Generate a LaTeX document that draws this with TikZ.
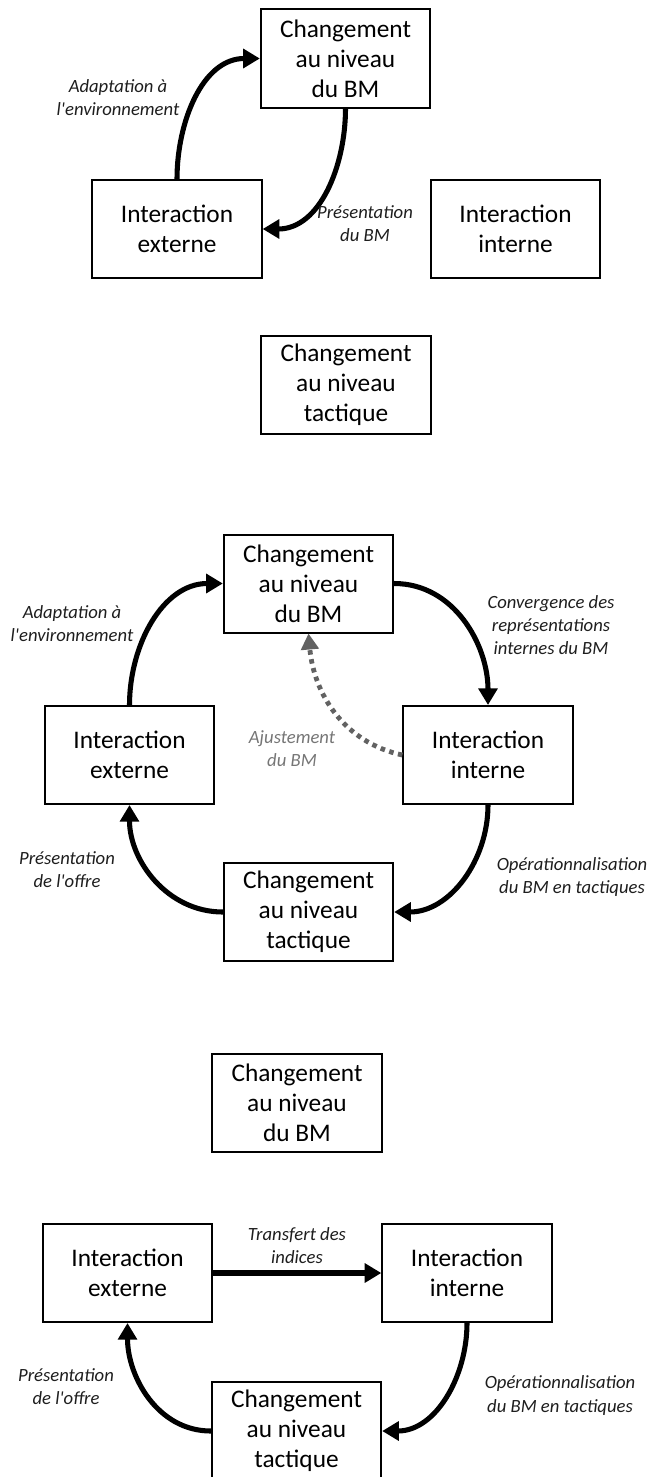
\documentclass[tikz,border=0pt]{standalone}
\usepackage{fontspec}
\setmainfont{Carlito}
\usetikzlibrary{arrows.meta}
\definecolor{adjgray}{RGB}{98,98,98}
\definecolor{adjtext}{RGB}{118,118,118}
\definecolor{lbltext}{RGB}{30,30,30}
\newcommand{\apos}{\textquotesingle}
\tikzset{
 box/.style={draw, line width=1.5pt, minimum width=127pt, minimum height=73.5pt, inner sep=0pt, align=center, font=\fontsize{19}{22.5}\selectfont},
 lbl/.style={align=center, inner sep=0pt, font=\fontsize{14}{17.3}\selectfont\itshape, text=lbltext},
 flow/.style={line width=3.8pt, -{Triangle[length=12.5pt,width=14pt]}},
 adj/.style={line width=3.6pt, dash pattern=on 3.4pt off 3.4pt, draw=adjgray, -{Triangle[length=12pt,width=13pt]}},
}
\begin{document}
\begin{tikzpicture}[x=0.75pt,y=-0.75pt]
\useasboundingbox (0,0) rectangle (650,1477);
% ---------- panel 1
\node[box] (bm1)  at (345.5,58.5) {Changement\\au niveau\\du BM};
\node[box] (ext1) at (177,229)    {Interaction\\externe};
\node[box] (int1) at (515.5,229)  {Interaction\\interne};
\node[box] (tac1) at (346,385)    {Changement\\au niveau\\tactique};
\draw[flow] (ext1.north) to[out=90,in=180] (bm1.west);
\draw[flow] (bm1.south) to[out=-90,in=0] (ext1.east);
\node[lbl] (l1a) at (118,97.5)  {Adaptation à\\l\apos environnement};
\node[lbl] (l1b) at (365,223.5) {Présentation\\du BM};
% ---------- panel 2
\node[box] (bm2)  at (308.5,583.5) {Changement\\au niveau\\du BM};
\node[box] (ext2) at (129.5,755)   {Interaction\\externe};
\node[box] (int2) at (488,755)     {Interaction\\interne};
\node[box] (tac2) at (308.5,912)   {Changement\\au niveau\\tactique};
\draw[flow] (ext2.north) to[out=90,in=180] (bm2.west);
\draw[flow] (bm2.east) to[out=0,in=90] (int2.north);
\draw[flow] (int2.south) to[out=-90,in=0] (tac2.east);
\draw[flow] (tac2.west) to[out=180,in=-90] (ext2.south);
\draw[adj] (int2.west) to[out=168,in=-85] (bm2.south);
\node[lbl] (l2a) at (72,623.5)  {Adaptation à\\l\apos environnement};
\node[lbl] (l2b) at (551,625)   {Convergence des\\représentations\\internes du BM};
\node[lbl, text=adjtext] (l2c) at (292,749) {Ajustement\\du BM};
\node[lbl] (l2d) at (67,869.5)  {Présentation\\de l\apos offre};
\node[lbl] (l2e) at (572,877)   {Opérationnalisation\\du BM en tactiques};
% ---------- panel 3
\node[box] (bm3)  at (297,1103)   {Changement\\au niveau\\du BM};
\node[box] (ext3) at (127.5,1273) {Interaction\\externe};
\node[box] (int3) at (467,1273)   {Interaction\\interne};
\node[box] (tac3) at (296.5,1431) {Changement\\au niveau\\tactique};
\draw[flow] (ext3.east) -- (int3.west);
\draw[flow] (int3.south) to[out=-90,in=0] (tac3.east);
\draw[flow] (tac3.west) to[out=180,in=-90] (ext3.south);
\node[lbl] (l3a) at (297,1245.5) {Transfert des\\indices};
\node[lbl] (l3b) at (66,1387)    {Présentation\\de l\apos offre};
\node[lbl] (l3c) at (560,1395.5) {Opérationnalisation\\du BM en tactiques};
\end{tikzpicture}
\end{document}
